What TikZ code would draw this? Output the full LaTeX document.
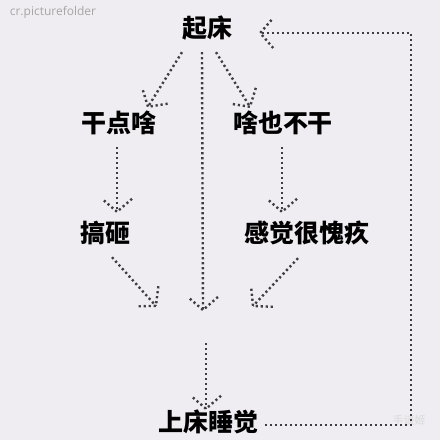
\documentclass[tikz,border=0pt]{standalone}
\usepackage{fontspec}
\usetikzlibrary{decorations.markings}
\newfontfamily\cjk{Noto Sans CJK SC}
\newfontfamily\wmfont{Open Sans}
\definecolor{bgcol}{RGB}{239,237,242}
\definecolor{dotcol}{RGB}{62,62,66}

\begin{document}
\begin{tikzpicture}[x=1pt, y=-1pt,
    word/.style={font=\cjk\bfseries\fontsize{25}{28}\selectfont, inner sep=0pt, text height=21pt, text depth=3pt},
    flow/.style={dotcol, line width=2.4pt, dash pattern=on 2.2pt off 2.8pt,
      postaction={decorate}, decoration={markings, mark=at position 1 with {\draw[dotcol, line width=2.4pt, dash pattern=on 2.2pt off 2.8pt] (-13pt,15pt) -- (0pt,0pt) -- (-13pt,-15pt);}}}]
        \fill[bgcol] (0,0) rectangle (440,440);
        \useasboundingbox (0,0) rectangle (440,440);
        \node[gray!70, font=\wmfont\fontsize{12}{14}\selectfont] (mark) at (53,12) {cr.picturefolder};
        \node[white!70!gray, font=\cjk\fontsize{11}{13}\selectfont] (mark2) at (409,420) {手谈姬};

        \node[word] (up) at (207,28) {起床};
        \node[word] (do) at (119,123) {干点啥};
        \node[word] (idle) at (283,123) {啥也不干};
        \node[word] (mess) at (106,233) {搞砸};
        \node[word] (guilt) at (307,233) {感觉很愧疚};
        \node[word] (sleep) at (208,422) {上床睡觉};
        \coordinate (m1) at (156,306);
        \coordinate (m2) at (203,310);
        \coordinate (m3) at (253,306);
        \coordinate (m4) at (206,343);

        \draw[flow] ([xshift=-25pt,yshift=-12pt]up.south) -- ([xshift=29pt,yshift=4pt]do.north);
        \draw[flow] ([xshift=9pt,yshift=-12pt]up.south) -- ([xshift=-33pt,yshift=4pt]idle.north);
        \draw[flow] ([xshift=-5pt,yshift=-12pt]up.south) -- (m2);
        \draw[flow] ([xshift=-2pt,yshift=-12pt]do.south) -- ([xshift=11pt,yshift=9pt]mess.north);
        \draw[flow] ([xshift=-1pt,yshift=-12pt]idle.south) -- ([xshift=-25pt,yshift=9pt]guilt.north);
        \draw[flow] ([xshift=6pt,yshift=-12pt]mess.south) -- (m1);
        \draw[flow] ([xshift=-9pt,yshift=-13pt]guilt.south) -- (m3);
        \draw[flow] (m4) -- ([xshift=-2pt,yshift=1pt]sleep.north);
        % back to the start
        \draw[flow] ([xshift=7pt,yshift=-3pt]sleep.east) -- ++(146,0) |- ([xshift=28pt,yshift=-5pt]up.east);
      \end{tikzpicture}
\end{document}
